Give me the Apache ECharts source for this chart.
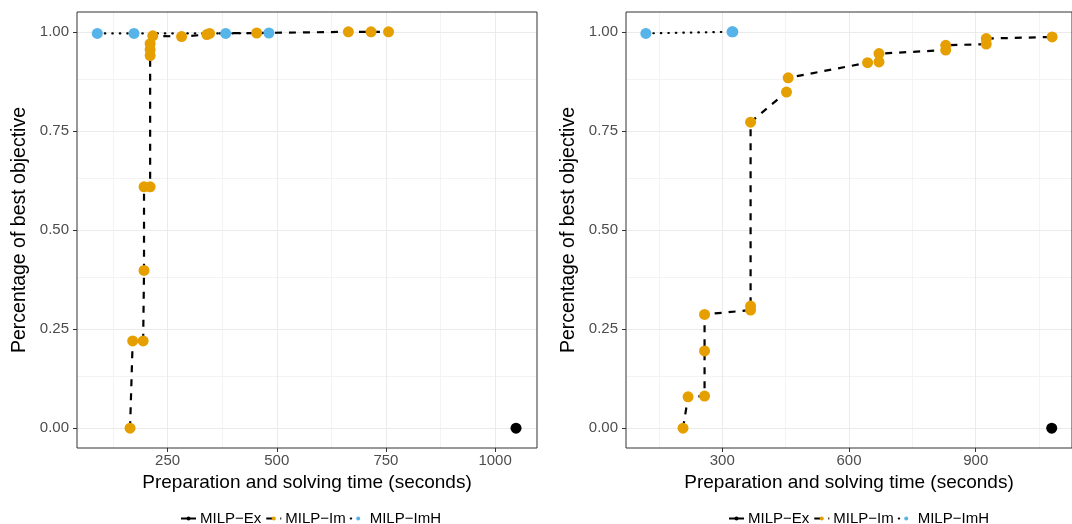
<!DOCTYPE html>
<html>
<head>
<meta charset="utf-8">
<script src="https://cdn.jsdelivr.net/npm/echarts@6/dist/echarts.min.js"></script>
<style>html,body{margin:0;padding:0;background:#fff}#c{width:1072px;height:524px}</style>
</head>
<body>
<div id="c"></div>
<script>
// ---- data (time in seconds, fraction of best objective) ----
const leftEx  = [[1048, 0]];
const leftIm  = [[164,0.0],[170,0.22],[194,0.22],[196,0.398],[196,0.609],[210,0.609],[210,0.94],[210,0.955],[210,0.97],[216,0.99],[282,0.988],[340,0.993],[346,0.996],[454,0.997],[664,1.0],[716,1.0],[756,1.0]];
const leftImH = [[89,0.996],[173,0.996],[383,0.996],[482,0.997]];

const rightEx  = [[1080, 0]];
const rightIm  = [[207,0.0],[219,0.079],[258,0.081],[258,0.195],[258,0.287],[367,0.298],[367,0.308],[367,0.772],[452,0.848],[456,0.884],[644,0.922],[671,0.924],[671,0.945],[829,0.954],[829,0.966],[925,0.969],[925,0.983],[1081,0.987]];
const rightImH = [[119,0.996],[323,1.0],[325,1.0]];

const seriesNames = ['MILP\u2212Ex','MILP\u2212Im','MILP\u2212ImH'];
const yTicks = [0, 0.25, 0.5, 0.75, 1];
const yMinor = [0.125, 0.375, 0.625, 0.875];
const xTicksLeft = [250, 500, 750, 1000];
const xMinorLeft = [125, 375, 625, 875];
const xTicksRight = [300, 600, 900];
const xMinorRight = [150, 450, 750, 1050];

// ---- styling ----
const colors = ['#000000', '#E69F00', '#56B4E9'];
const lineTypes = ['solid', [7, 7], [0.5, 7]];
const lineCaps = ['butt', 'butt', 'round'];
const FONT = 'Liberation Sans';

const grids = [
  {left: 77, top: 12, width: 460, height: 436},
  {left: 626, top: 12, width: 457, height: 436}
];
const xRanges = [[42.5, 1096], [72, 1128]];
const xTicks = [xTicksLeft, xTicksRight];
const xMinor = [xMinorLeft, xMinorRight];
const panelData = [[leftEx, leftIm, leftImH], [rightEx, rightIm, rightImH]];

const xAxes = [], yAxes = [], series = [];
for (let p = 0; p < 2; p++) {
  xAxes.push({
    type: 'value', gridIndex: p, min: xRanges[p][0], max: xRanges[p][1], position: 'bottom',
    name: 'Preparation and solving time (seconds)', nameLocation: 'middle', nameGap: 25,
    nameTextStyle: {fontFamily: FONT, fontSize: 19, color: '#000'},
    axisLine: {show: false, onZero: false},
    splitLine: {show: false},
    axisTick: {show: true, inside: false, length: 4, lineStyle: {color: '#333', width: 1}, customValues: xTicks[p]},
    axisLabel: {show: true, customValues: xTicks[p], margin: 5, fontFamily: FONT, fontSize: 15, color: '#4d4d4d',
      formatter: v => String(v)}
  });
  yAxes.push({
    type: 'value', gridIndex: p, min: -0.05, max: 1.05, position: 'left',
    name: 'Percentage of best objective', nameLocation: 'middle', nameGap: 47,
    nameTextStyle: {fontFamily: FONT, fontSize: 19.5, color: '#000'},
    axisLine: {show: false, onZero: false},
    splitLine: {show: false},
    axisTick: {show: true, inside: false, length: 4, lineStyle: {color: '#333', width: 1}, customValues: yTicks},
    axisLabel: {show: true, customValues: yTicks, margin: 8, fontFamily: FONT, fontSize: 15, color: '#4d4d4d',
      formatter: v => v.toFixed(2)}
  });
  // grid lines series
  const ml = [];
  xMinor[p].forEach(v => ml.push({xAxis: v, lineStyle: {color: '#f3f3f3', width: 1, type: 'solid'}}));
  yMinor.forEach(v => ml.push({yAxis: v, lineStyle: {color: '#f3f3f3', width: 1, type: 'solid'}}));
  xTicks[p].forEach(v => ml.push({xAxis: v, lineStyle: {color: '#ebebeb', width: 1, type: 'solid'}}));
  yTicks.forEach(v => ml.push({yAxis: v, lineStyle: {color: '#ebebeb', width: 1, type: 'solid'}}));
  series.push({
    type: 'line', name: 'gridlines', xAxisIndex: p, yAxisIndex: p, data: [], z: 0, silent: true,
    markLine: {silent: true, z: 0, zlevel: 0, symbol: ['none', 'none'], label: {show: false}, animation: false, data: ml}
  });
  for (let s = 0; s < 3; s++) {
    series.push({
      type: 'line', name: seriesNames[s], xAxisIndex: p, yAxisIndex: p, data: panelData[p][s],
      symbol: 'none', z: 2, silent: true,
      lineStyle: {color: '#000', width: 2.2, type: lineTypes[s], cap: lineCaps[s]},
      itemStyle: {color: colors[s]}
    });
  }
  for (let s = 0; s < 3; s++) {
    series.push({
      type: 'scatter', name: seriesNames[s], xAxisIndex: p, yAxisIndex: p, data: panelData[p][s],
      symbol: 'circle', symbolSize: 11, z: 3, silent: true,
      itemStyle: {color: colors[s], opacity: 1}
    });
  }
}

const legendBase = {
  data: seriesNames, top: 511, padding: 0, itemWidth: 15, itemHeight: 5, itemGap: 4,
  textStyle: {fontFamily: FONT, fontSize: 15, color: '#000', padding: [0, 0, 0, -1]},
  selectedMode: false
};

const chart = echarts.init(document.getElementById('c'), null, {renderer: 'canvas'});
chart.setOption({
  animation: false,
  backgroundColor: '#fff',
  grid: grids.map(g => Object.assign({show: true, borderColor: '#333', borderWidth: 1, backgroundColor: 'transparent', containLabel: false, z: 1}, g)),
  xAxis: xAxes,
  yAxis: yAxes,
  legend: [Object.assign({left: 180}, legendBase), Object.assign({left: 728}, legendBase)],
  series: series
});
</script>
</body>
</html>
